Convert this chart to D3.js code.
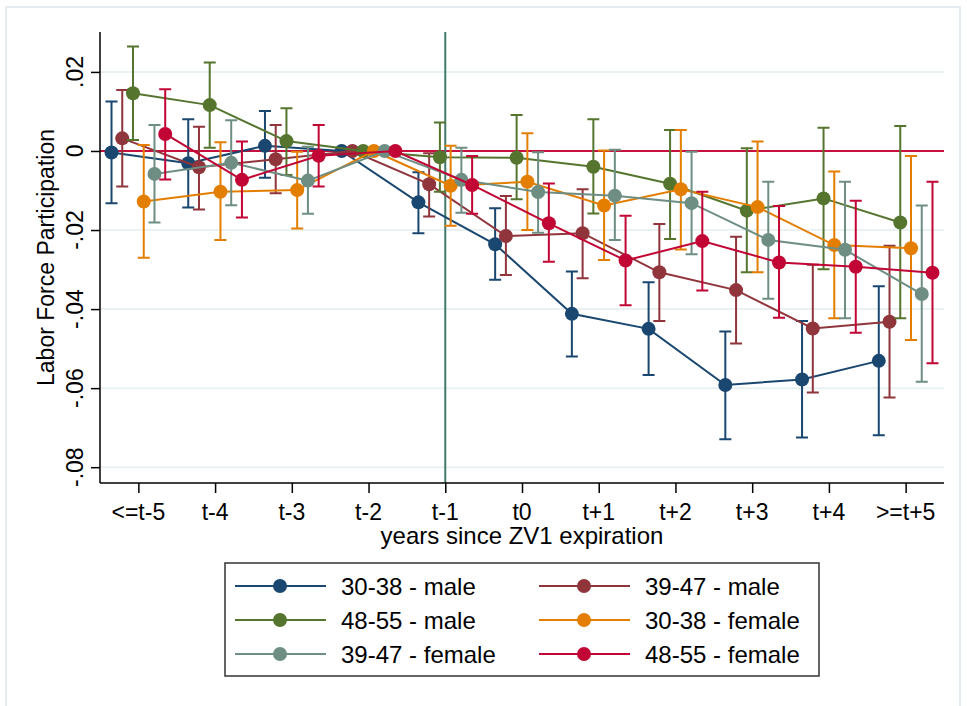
<!DOCTYPE html>
<meta charset="utf-8">
<style>
body { margin: 0; background: #fff; }
text { font-family: "Liberation Sans", Arial, sans-serif; fill: #000; }
</style>
<svg width="967" height="706"></svg>
<script src="https://d3js.org/d3.v7.min.js"></script>
<script>

var periods = ["<=t-5", "t-4", "t-3", "t-2", "t-1", "t0", "t+1", "t+2", "t+3", "t+4", ">=t+5"];
var yTicks = [0.02, 0, -0.02, -0.04, -0.06, -0.08];
var yTickLabels = [".02", "0", "-.02", "-.04", "-.06", "-.08"];

var names = ["30-38 - male", "39-47 - male", "48-55 - male", "30-38 - female", "39-47 - female", "48-55 - female"];
var colors = ["#1a476f", "#90353b", "#55752f", "#e37e00", "#6e8e84", "#c10534"];

var m3038 = [-0.0004, -0.0031, 0.0013, 0, -0.0130, -0.0236, -0.0412, -0.0450, -0.0592, -0.0578, -0.0531];
var m3038_lo = [-0.0132, -0.0143, -0.0068, null, -0.0208, -0.0326, -0.0520, -0.0567, -0.0729, -0.0725, -0.0719];
var m3038_hi = [0.0125, 0.0080, 0.0101, null, -0.0054, -0.0145, -0.0305, -0.0332, -0.0457, -0.0430, -0.0342];

var m3947 = [0.0032, -0.0041, -0.0021, 0, -0.0084, -0.0215, -0.0208, -0.0307, -0.0352, -0.0449, -0.0432];
var m3947_lo = [-0.0090, -0.0148, -0.0107, null, -0.0166, -0.0314, -0.0322, -0.0430, -0.0487, -0.0611, -0.0624];
var m3947_hi = [0.0154, 0.0061, 0.0066, null, -0.0006, -0.0114, -0.0097, -0.0185, -0.0217, -0.0288, -0.0240];

var m4855 = [0.0146, 0.0116, 0.0025, 0, -0.0016, -0.0017, -0.0040, -0.0083, -0.0151, -0.0120, -0.0181];
var m4855_lo = [0.0028, 0.0008, -0.0061, null, -0.0103, -0.0122, -0.0158, -0.0223, -0.0307, -0.0299, -0.0423];
var m4855_hi = [0.0264, 0.0224, 0.0108, null, 0.0072, 0.0091, 0.0080, 0.0053, 0.0007, 0.0059, 0.0063];

var f3038 = [-0.0128, -0.0103, -0.0099, 0, -0.0088, -0.0078, -0.0138, -0.0097, -0.0142, -0.0238, -0.0246];
var f3038_lo = [-0.0270, -0.0225, -0.0196, null, -0.0189, -0.0200, -0.0276, -0.0249, -0.0307, -0.0423, -0.0478];
var f3038_hi = [0.0015, 0.0022, -0.0002, null, 0.0013, 0.0045, 0.0001, 0.0053, 0.0024, -0.0052, -0.0013];

var f3947 = [-0.0058, -0.0030, -0.0075, 0, -0.0073, -0.0104, -0.0113, -0.0132, -0.0225, -0.0250, -0.0362];
var f3947_lo = [-0.0181, -0.0137, -0.0159, null, -0.0156, -0.0207, -0.0225, -0.0261, -0.0374, -0.0423, -0.0584];
var f3947_hi = [0.0066, 0.0078, 0.0011, null, 0.0008, -0.0003, 0.0003, -0.0002, -0.0078, -0.0078, -0.0138];

var f4855 = [0.0043, -0.0073, -0.0012, 0, -0.0086, -0.0183, -0.0277, -0.0228, -0.0282, -0.0293, -0.0308];
var f4855_lo = [-0.0072, -0.0168, -0.0090, null, -0.0159, -0.0280, -0.0390, -0.0353, -0.0422, -0.0460, -0.0537];
var f4855_hi = [0.0156, 0.0024, 0.0066, null, -0.0013, -0.0082, -0.0164, -0.0103, -0.0139, -0.0126, -0.0078];

var series = [
  {est: m3038, lo: m3038_lo, hi: m3038_hi},
  {est: m3947, lo: m3947_lo, hi: m3947_hi},
  {est: m4855, lo: m4855_lo, hi: m4855_hi},
  {est: f3038, lo: f3038_lo, hi: f3038_hi},
  {est: f3947, lo: f3947_lo, hi: f3947_hi},
  {est: f4855, lo: f4855_lo, hi: f4855_hi}
];

var svg = d3.select("svg");

var plotLeft = 100, plotRight = 944, plotTop = 32, plotBottom = 483;

var x = d3.scaleLinear().domain([-0.5, 10.5]).range([plotLeft, plotRight]);
var y = d3.scaleLinear().domain([-0.084, 0.0301]).range([plotBottom, plotTop]);

// outer frame
svg.append("rect")
    .attr("x", 6).attr("y", 7)
    .attr("width", 954).attr("height", 710)
    .attr("fill", "none")
    .attr("stroke", "#e4ecef")
    .attr("stroke-width", 2);

// grid
svg.append("g").selectAll("line")
  .data(yTicks)
  .enter().append("line")
    .attr("x1", plotLeft).attr("x2", plotRight)
    .attr("y1", function(d) { return y(d); })
    .attr("y2", function(d) { return y(d); })
    .attr("stroke", "#eaf1f3")
    .attr("stroke-width", 2);

// reference lines
svg.append("line")
    .attr("x1", plotLeft).attr("x2", plotRight)
    .attr("y1", y(0)).attr("y2", y(0))
    .attr("stroke", "#c8103f")
    .attr("stroke-width", 2);

svg.append("line")
    .attr("x1", x(4)).attr("x2", x(4))
    .attr("y1", plotTop).attr("y2", plotBottom)
    .attr("stroke", "#3f7a6c")
    .attr("stroke-width", 2);

// y axis
var yAxis = svg.append("g")
    .attr("transform", "translate(" + plotLeft + ",0)")
    .call(d3.axisLeft(y).tickValues(yTicks).tickSize(9).tickFormat(function(d) { return ""; }));
yAxis.select(".domain").attr("d", "M0," + plotTop + "V" + plotBottom).attr("stroke", "#000").attr("stroke-width", 1.5);
yAxis.selectAll(".tick line").attr("stroke", "#000").attr("stroke-width", 1.5);

svg.append("g").selectAll("text")
  .data(yTicks)
  .enter().append("text")
    .attr("transform", function(d) { return "translate(83," + y(d) + ") rotate(-90)"; })
    .attr("text-anchor", "middle")
    .attr("font-size", 23)
    .text(function(d, i) { return yTickLabels[i]; });

svg.append("text")
    .attr("transform", "translate(54," + ((plotTop + plotBottom) / 2) + ") rotate(-90)")
    .attr("text-anchor", "middle")
    .attr("font-size", 23)
    .text("Labor Force Participation");

// x axis
var xAxis = svg.append("g")
    .attr("transform", "translate(0," + plotBottom + ")")
    .call(d3.axisBottom(x).tickValues(d3.range(periods.length)).tickSize(10).tickFormat(function(d) { return ""; }));
xAxis.select(".domain").attr("d", "M" + plotLeft + ",0H" + plotRight).attr("stroke", "#000").attr("stroke-width", 1.5);
xAxis.selectAll(".tick line").attr("stroke", "#000").attr("stroke-width", 1.5);

svg.append("g").selectAll("text")
  .data(periods)
  .enter().append("text")
    .attr("x", function(d, i) { return x(i); })
    .attr("y", 520)
    .attr("text-anchor", "middle")
    .attr("font-size", 23)
    .text(function(d) { return d; });

svg.append("text")
    .attr("x", (plotLeft + plotRight) / 2)
    .attr("y", 544)
    .attr("text-anchor", "middle")
    .attr("font-size", 24)
    .text("years since ZV1 expiration");

// series
var dodge = 0.14;

series.forEach(function(s, k) {
  var off = (k - 2.5) * dodge;
  var g = svg.append("g");
  var bars = s.est.map(function(d, i) { return {i: i, lo: s.lo[i], hi: s.hi[i]}; })
      .filter(function(d) { return d.lo != null; });

  g.selectAll(".bar")
    .data(bars)
    .enter().append("path")
      .attr("fill", "none")
      .attr("stroke", colors[k])
      .attr("stroke-width", 2)
      .attr("d", function(d) {
        var cx = x(d.i + off);
        return "M" + (cx - 6) + "," + y(d.hi) + "H" + (cx + 6) +
               "M" + cx + "," + y(d.hi) + "V" + y(d.lo) +
               "M" + (cx - 6) + "," + y(d.lo) + "H" + (cx + 6);
      });

  g.append("path")
      .datum(s.est)
      .attr("fill", "none")
      .attr("stroke", colors[k])
      .attr("stroke-width", 2)
      .attr("d", d3.line()
        .x(function(d, i) { return x(i + off); })
        .y(function(d) { return y(d); }));

  g.selectAll("circle")
    .data(s.est)
    .enter().append("circle")
      .attr("cx", function(d, i) { return x(i + off); })
      .attr("cy", function(d) { return y(d); })
      .attr("r", 7)
      .attr("fill", colors[k]);
});

// legend
svg.append("rect")
    .attr("x", 225).attr("y", 563)
    .attr("width", 594).attr("height", 113)
    .attr("fill", "#fff")
    .attr("stroke", "#333")
    .attr("stroke-width", 1.5);

var leg = svg.append("g").selectAll("g")
  .data(names)
  .enter().append("g")
    .attr("transform", function(d, i) {
      return "translate(" + (235 + (i % 2) * 304) + "," + (586 + Math.floor(i / 2) * 34) + ")";
    });

leg.append("line")
    .attr("x1", 0).attr("x2", 91)
    .attr("stroke", function(d, i) { return colors[i]; })
    .attr("stroke-width", 2);

leg.append("circle")
    .attr("cx", 45).attr("r", 7)
    .attr("fill", function(d, i) { return colors[i]; });

leg.append("text")
    .attr("x", 106).attr("y", 8.5)
    .attr("font-size", 24)
    .text(function(d) { return d; });

</script>
